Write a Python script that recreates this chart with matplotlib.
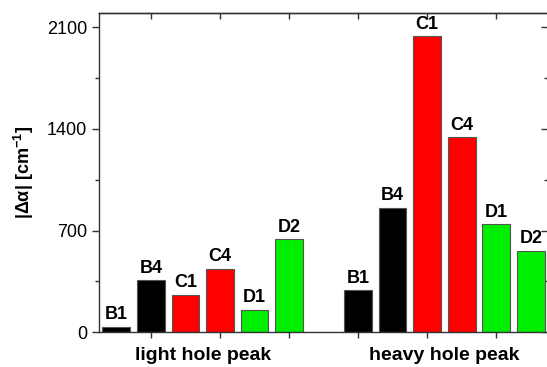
import numpy as np
import matplotlib
matplotlib.use('Agg')
import matplotlib.pyplot as plt
from matplotlib.ticker import MultipleLocator, NullFormatter

plt.rcParams['font.family'] = ['Liberation Sans', 'DejaVu Sans']
plt.rcParams['mathtext.default'] = 'regular'

samples = ['B1', 'B4', 'C1', 'C4', 'D1', 'D2']
colors = ['black', 'black', 'red', 'red', '#00ee00', '#00ee00']
groups = ['light hole peak', 'heavy hole peak']
light_vals = [36, 358, 259, 438, 156, 640]
heavy_vals = [289, 858, 2038, 1343, 744, 560]

fig = plt.figure(figsize=(5.47, 3.67), dpi=100)
ax = fig.add_axes([0.181, 0.0946, 0.821, 0.8708])

pos_light = np.arange(1, 7)
pos_heavy = np.arange(8, 14)

for pos, vals in ((pos_light, light_vals), (pos_heavy, heavy_vals)):
  ax.bar(pos, vals, width=0.8, color=colors, edgecolor='#555555', linewidth=0.8)
  for x, v, s in zip(pos, vals, samples):
    ax.text(x, v + 25, s, ha='center', va='bottom', fontsize=13, fontweight='bold')

ax.set_xlim(0.5, 13.5)
ax.set_ylim(0, 2200)
ax.xaxis.set_major_locator(MultipleLocator(2))
ax.xaxis.set_major_formatter(NullFormatter())
ax.yaxis.set_major_locator(MultipleLocator(700))
ax.yaxis.set_minor_locator(MultipleLocator(350))
ax.tick_params(axis='y', which='both', direction='out', labelsize=13)
ax.tick_params(axis='y', which='major', length=5)
ax.tick_params(axis='y', which='minor', length=3)
ax.tick_params(axis='x', which='major', direction='out', length=4)
ax.tick_params(which='both', width=1, color='#333333')

# mirrored ticks pointing inward on top and right
top = ax.secondary_xaxis('top')
top.xaxis.set_major_locator(MultipleLocator(2))
top.xaxis.set_major_formatter(NullFormatter())
top.tick_params(direction='in', length=4, width=1, color='#333333')
right = ax.secondary_yaxis('right')
right.yaxis.set_major_locator(MultipleLocator(700))
right.yaxis.set_minor_locator(MultipleLocator(350))
right.yaxis.set_major_formatter(NullFormatter())
right.tick_params(which='both', direction='in', width=1, color='#333333')
right.tick_params(which='major', length=5)
right.tick_params(which='minor', length=3)

for a in (ax, top, right):
  for sp in a.spines.values():
    sp.set_linewidth(1)
    sp.set_color('#333333')

for cx, g in zip([pos_light.mean(), pos_heavy.mean()], groups):
  ax.text(cx, -0.045, g, transform=ax.get_xaxis_transform(), ha='center', va='top',
          fontsize=14, fontweight='bold')

ax.set_ylabel('|Δα| [cm$^{-1}$]', fontsize=13, fontweight='bold', labelpad=8)

plt.savefig('out.png', dpi=100)
